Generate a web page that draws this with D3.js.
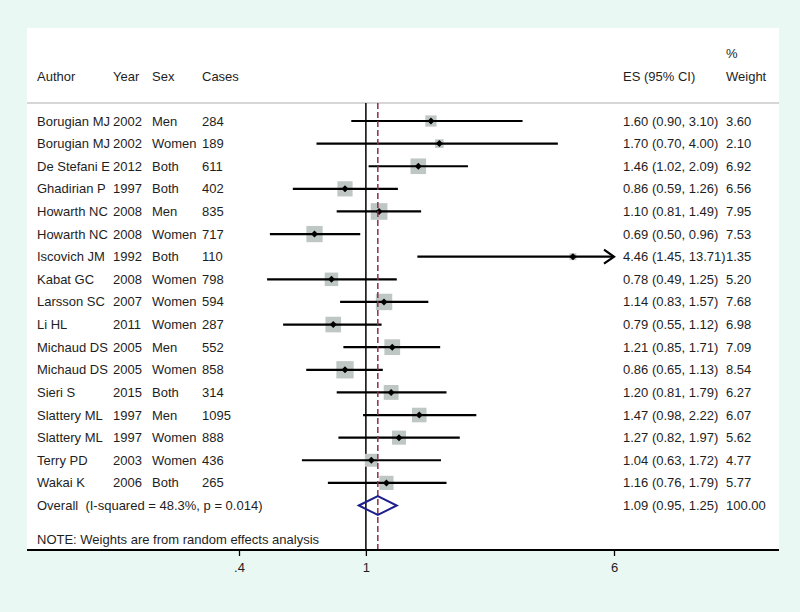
<!DOCTYPE html>
<html>
<head>
<meta charset="utf-8">
<script src="https://cdn.jsdelivr.net/npm/d3@7"></script>
<style>
  body { margin: 0; background: #eaf8f4; }
  text { font-family: "Liberation Sans", Arial, sans-serif; font-size: 13px; fill: #1e1e1e; white-space: pre; }
</style>
</head>
<body>
<div id="chart"></div>
<script>
// ----- Data -----
const authors = ["Borugian MJ", "Borugian MJ", "De Stefani E", "Ghadirian P", "Howarth NC", "Howarth NC",
  "Iscovich JM", "Kabat GC", "Larsson SC", "Li HL", "Michaud DS", "Michaud DS", "Sieri S",
  "Slattery ML", "Slattery ML", "Terry PD", "Wakai K"];
const years = [2002, 2002, 2012, 1997, 2008, 2008, 1992, 2008, 2007, 2011, 2005, 2005, 2015, 1997, 1997, 2003, 2006];
const sexes = ["Men", "Women", "Both", "Both", "Men", "Women", "Both", "Women", "Women", "Women", "Men", "Women",
  "Both", "Men", "Women", "Women", "Both"];
const cases = [284, 189, 611, 402, 835, 717, 110, 798, 594, 287, 552, 858, 314, 1095, 888, 436, 265];
const es = [1.60, 1.70, 1.46, 0.86, 1.10, 0.69, 4.46, 0.78, 1.14, 0.79, 1.21, 0.86, 1.20, 1.47, 1.27, 1.04, 1.16];
const lower = [0.90, 0.70, 1.02, 0.59, 0.81, 0.50, 1.45, 0.49, 0.83, 0.55, 0.85, 0.65, 0.81, 0.98, 0.82, 0.63, 0.76];
const upper = [3.10, 4.00, 2.09, 1.26, 1.49, 0.96, 13.71, 1.25, 1.57, 1.12, 1.71, 1.13, 1.79, 2.22, 1.97, 1.72, 1.79];
const weights = [3.60, 2.10, 6.92, 6.56, 7.95, 7.53, 1.35, 5.20, 7.68, 6.98, 7.09, 8.54, 6.27, 6.07, 5.62, 4.77, 5.77];

const overall = { es: 1.09, lower: 0.95, upper: 1.25, weight: 100, label: "Overall  (I-squared = 48.3%, p = 0.014)" };
const note = "NOTE: Weights are from random effects analysis";
const xTicks = [0.4, 1, 6];
const xTickLabels = [".4", "1", "6"];

// ----- Layout -----
const width = 800, height = 612;
const panel = { left: 27, top: 28, right: 779, bottom: 550 };
const col = { author: 37, year: 113, sex: 152, cases: 202, es: 623, weight: 726 };

const svg = d3.select("#chart").append("svg")
  .attr("width", width)
  .attr("height", height);

svg.append("rect")
  .attr("x", panel.left).attr("y", panel.top)
  .attr("width", panel.right - panel.left).attr("height", panel.bottom - panel.top)
  .attr("fill", "#fff");

const x = d3.scaleLog().domain([0.4, 6]).range([239, 614]);
const y = d3.scaleLinear().domain([0, 17]).range([121, 505.5]);
const boxSide = d3.scaleSqrt().domain([0, 8.54]).range([0, 17.3]);

const fmt = d3.format(".2f");
const rows = authors.map((a, i) => ({
  author: a, year: years[i], sex: sexes[i], cases: cases[i],
  es: es[i], lower: lower[i], upper: upper[i], weight: weights[i], i
}));

// header
const header = svg.append("g");
[["Author", col.author], ["Year", col.year], ["Sex", col.sex], ["Cases", col.cases],
 ["ES (95% CI)", col.es], ["Weight", col.weight]].forEach(([t, cx]) => {
  header.append("text").attr("x", cx).attr("y", 76).attr("dy", ".35em").text(t);
});
header.append("text").attr("x", col.weight).attr("y", 53).attr("dy", ".35em").text("%");

svg.append("line")
  .attr("x1", panel.left).attr("x2", panel.right)
  .attr("y1", 103).attr("y2", 103)
  .attr("stroke", "#c8c8c8").attr("stroke-width", 1.5);

// null line
svg.append("line")
  .attr("x1", x(1)).attr("x2", x(1))
  .attr("y1", 103).attr("y2", panel.bottom)
  .attr("stroke", "#000").attr("stroke-width", 1.5);

// ----- Study rows -----
const g = svg.append("g");
const row = g.selectAll("g.row").data(rows).join("g").attr("class", "row");

row.append("rect")
  .attr("x", d => x(d.es) - boxSide(d.weight) / 2)
  .attr("y", d => y(d.i) - boxSide(d.weight) / 2)
  .attr("width", d => boxSide(d.weight))
  .attr("height", d => boxSide(d.weight))
  .attr("fill", "#bfc7c5");

row.append("line")
  .attr("x1", d => x(Math.max(d.lower, 0.4)))
  .attr("x2", d => x(Math.min(d.upper, 6)))
  .attr("y1", d => y(d.i)).attr("y2", d => y(d.i))
  .attr("stroke", "#000").attr("stroke-width", 2.2);

// arrow when the CI runs past the axis
row.filter(d => d.upper > 6).append("path")
  .attr("d", d => `M${x(6) - 10},${y(d.i) - 7}L${x(6)},${y(d.i)}L${x(6) - 10},${y(d.i) + 7}`)
  .attr("fill", "none").attr("stroke", "#000").attr("stroke-width", 2.2);

row.append("path")
  .attr("d", d => `M${x(d.es)},${y(d.i) - 3.5}L${x(d.es) + 3.5},${y(d.i)}L${x(d.es)},${y(d.i) + 3.5}L${x(d.es) - 3.5},${y(d.i)}Z`)
  .attr("fill", "#000");

// text columns
row.append("text").attr("x", col.author).attr("y", d => y(d.i)).attr("dy", ".35em").text(d => d.author);
row.append("text").attr("x", col.year).attr("y", d => y(d.i)).attr("dy", ".35em").text(d => d.year);
row.append("text").attr("x", col.sex).attr("y", d => y(d.i)).attr("dy", ".35em").text(d => d.sex);
row.append("text").attr("x", col.cases).attr("y", d => y(d.i)).attr("dy", ".35em").text(d => d.cases);
row.append("text").attr("x", col.es).attr("y", d => y(d.i)).attr("dy", ".35em")
  .text(d => `${fmt(d.es)} (${fmt(d.lower)}, ${fmt(d.upper)})`);
row.append("text").attr("x", col.weight).attr("y", d => y(d.i)).attr("dy", ".35em").text(d => fmt(d.weight));

// ----- Overall -----
svg.append("line")
  .attr("x1", x(overall.es)).attr("x2", x(overall.es))
  .attr("y1", 103).attr("y2", panel.bottom)
  .attr("stroke", "#8e2f48").attr("stroke-width", 1.5)
  .attr("stroke-dasharray", "6,3");

const yo = y(17);
svg.append("path")
  .attr("d", `M${x(overall.lower)},${yo}L${x(overall.es)},${yo - 9.5}L${x(overall.upper)},${yo}L${x(overall.es)},${yo + 9.5}Z`)
  .attr("fill", "none").attr("stroke", "#1e1e8c").attr("stroke-width", 2);

svg.append("text").attr("x", col.author).attr("y", yo).attr("dy", ".35em").text(overall.label);
svg.append("text").attr("x", col.es).attr("y", yo).attr("dy", ".35em")
  .text(`${fmt(overall.es)} (${fmt(overall.lower)}, ${fmt(overall.upper)})`);
svg.append("text").attr("x", col.weight).attr("y", yo).attr("dy", ".35em").text(fmt(overall.weight));

svg.append("text").attr("x", col.author).attr("y", 539).attr("dy", ".35em").text(note);

// ----- Axis -----
const axis = d3.axisBottom(x)
  .tickValues(xTicks)
  .tickFormat((d, i) => xTickLabels[i])
  .tickSize(6)
  .tickPadding(7);

const ax = svg.append("g")
  .attr("transform", `translate(0,${panel.bottom})`)
  .call(axis);
ax.select(".domain").remove();
ax.selectAll(".tick line").attr("stroke", "#000").attr("stroke-width", 1.3);
ax.selectAll(".tick text").attr("font-size", 13).attr("font-family", "Liberation Sans, Arial, sans-serif").attr("fill", "#1e1e1e");

svg.append("line")
  .attr("x1", panel.left).attr("x2", panel.right)
  .attr("y1", panel.bottom).attr("y2", panel.bottom)
  .attr("stroke", "#000").attr("stroke-width", 2);
</script>
</body>
</html>
